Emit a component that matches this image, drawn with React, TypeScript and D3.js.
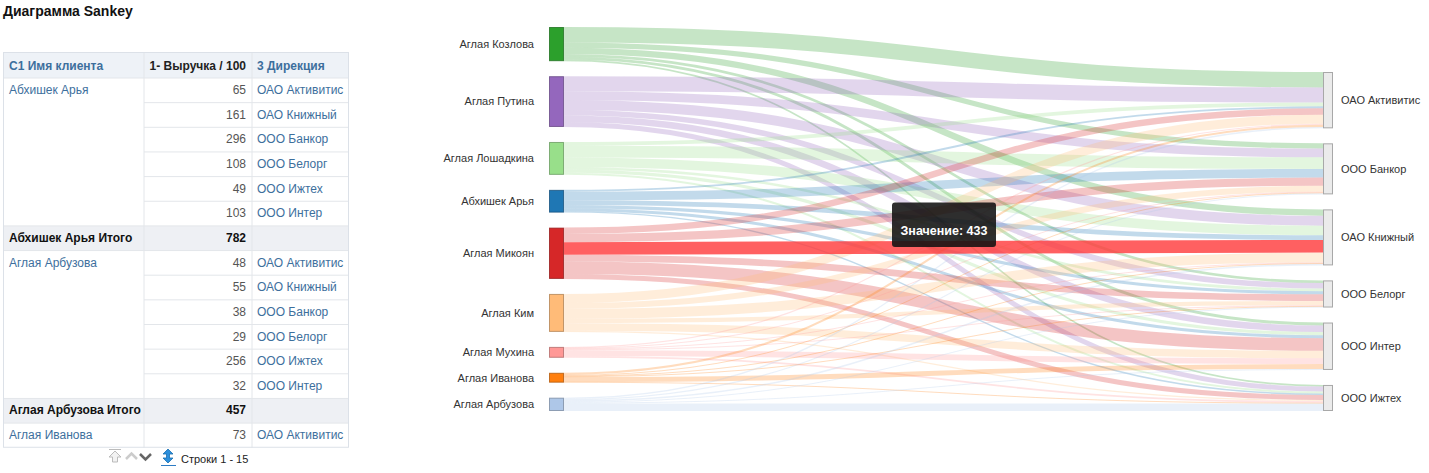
import React from "react";
import * as d3 from "d3";

// ---------- DATA ----------
const sourceNames = [
  "Аглая Козлова",
  "Аглая Путина",
  "Аглая Лошадкина",
  "Абхишек Арья",
  "Аглая Микоян",
  "Аглая Ким",
  "Аглая Мухина",
  "Аглая Иванова",
  "Аглая Арбузова",
];
const sourceColors = [
  "#2ca02c",
  "#9467bd",
  "#98df8a",
  "#1f77b4",
  "#d62728",
  "#ffbb78",
  "#ff9896",
  "#ff7f0e",
  "#aec7e8",
];
const targetNames = [
  "ОАО Активитис",
  "ООО Банкор",
  "ОАО Книжный",
  "ООО Белорг",
  "ООО Интер",
  "ООО Ижтех",
];
// values per source, in targetNames order
const kozlovaValues = [530, 180, 220, 90, 100, 55];
const putinaValues = [520, 300, 340, 190, 225, 170];
const loshadkinaValues = [130, 400, 330, 90, 110, 70];
const abhishekValues = [65, 296, 161, 108, 103, 49];
const mikoyanValues = [220, 280, 433, 230, 430, 170];
const kimValues = [310, 210, 340, 145, 260, 40];
const mukhinaValues = [40, 20, 25, 30, 200, 59];
const ivanovaValues = [73, 30, 21, 20, 170, 26];
const arbuzovaValues = [48, 38, 55, 29, 32, 256];
const linkValues = [
  kozlovaValues,
  putinaValues,
  loshadkinaValues,
  abhishekValues,
  mikoyanValues,
  kimValues,
  mukhinaValues,
  ivanovaValues,
  arbuzovaValues,
];
const highlighted = { source: 4, target: 2 };
const tooltipLabel = "Значение: 433";

// table data
const tableTitle = "Диаграмма Sankey";
const tableHeaders = ["С1 Имя клиента", "1- Выручка / 100", "3 Дирекция"];
type Row = { name?: string; value: string; dir?: string; total?: boolean };
const tableRows: Row[] = [
  { name: "Абхишек Арья", value: "65", dir: "ОАО Активитис" },
  { value: "161", dir: "ОАО Книжный" },
  { value: "296", dir: "ООО Банкор" },
  { value: "108", dir: "ООО Белорг" },
  { value: "49", dir: "ООО Ижтех" },
  { value: "103", dir: "ООО Интер" },
  { name: "Абхишек Арья Итого", value: "782", total: true },
  { name: "Аглая Арбузова", value: "48", dir: "ОАО Активитис" },
  { value: "55", dir: "ОАО Книжный" },
  { value: "38", dir: "ООО Банкор" },
  { value: "29", dir: "ООО Белорг" },
  { value: "256", dir: "ООО Ижтех" },
  { value: "32", dir: "ООО Интер" },
  { name: "Аглая Арбузова Итого", value: "457", total: true },
  { name: "Аглая Иванова", value: "73", dir: "ОАО Активитис" },
];
const pagerLabel = "Строки 1 - 15";

// ---------- LAYOUT ----------
const W = 1429;
const H = 473;
const FONT = "'Liberation Sans', Arial, Helvetica, sans-serif";
const LINK_BLUE = "#3d6f9d";

const sx0 = 549;
const sx1 = 1333;
const sy0 = 27;
const sy1 = 411;
const pad = 15;
const leftW = 15;
const rightW = 10;

export default function App() {
  const srcTotals = linkValues.map((r) => d3.sum(r));
  const tgtTotals = targetNames.map((_, j) => d3.sum(linkValues, (r) => r[j]));
  const total = d3.sum(srcTotals);
  const kyL = (sy1 - sy0 - (sourceNames.length - 1) * pad) / total;
  const kyR = (sy1 - sy0 - (targetNames.length - 1) * pad) / total;
  const ky = Math.min(kyL, kyR);
  const h = d3.scaleLinear().domain([0, total]).range([0, total * ky]);

  const srcNodes: { y0: number; y1: number }[] = [];
  let y = sy0;
  srcTotals.forEach((t) => {
    srcNodes.push({ y0: y, y1: y + h(t) });
    y += h(t) + pad;
  });
  const rightHeight = d3.sum(tgtTotals, (t) => h(t)) + (targetNames.length - 1) * pad;
  const tgtNodes: { y0: number; y1: number }[] = [];
  y = sy1 - rightHeight;
  tgtTotals.forEach((t) => {
    tgtNodes.push({ y0: y, y1: y + h(t) });
    y += h(t) + pad;
  });

  const lx0 = sx0 + leftW;
  const rx0 = sx1 - rightW;

  type L = { s: number; t: number; v: number; w: number; ys: number; yt: number };
  const links: L[] = [];
  const srcOff = srcNodes.map((n) => n.y0);
  const tgtOff = tgtNodes.map((n) => n.y0);
  const linkMap: Record<string, L> = {};
  linkValues.forEach((row, i) => {
    row.forEach((v, j) => {
      const l: L = { s: i, t: j, v, w: h(v), ys: 0, yt: 0 };
      linkMap[i + "-" + j] = l;
      links.push(l);
    });
  });
  for (let i = 0; i < sourceNames.length; i++) {
    for (let j = 0; j < targetNames.length; j++) {
      const l = linkMap[i + "-" + j];
      l.ys = srcOff[i] + l.w / 2;
      srcOff[i] += l.w;
    }
  }
  for (let j = 0; j < targetNames.length; j++) {
    for (let i = 0; i < sourceNames.length; i++) {
      const l = linkMap[i + "-" + j];
      l.yt = tgtOff[j] + l.w / 2;
      tgtOff[j] += l.w;
    }
  }
  const linkGen = d3
    .linkHorizontal<any, [number, number]>()
    .source((d: any) => d[0])
    .target((d: any) => d[1]);
  const pathOf = (l: L) =>
    linkGen([
      [lx0, l.ys],
      [rx0, l.yt],
    ] as any) as string;

  const isHi = (l: L) => l.s === highlighted.source && l.t === highlighted.target;

  const tx = 3;
  const colW = [141, 108, 97];
  const colX = [tx, tx + colW[0], tx + colW[0] + colW[1]];
  const tRight = tx + d3.sum(colW);
  const headY = 52;
  const headH = 26;
  const rowH = 24.65;
  const bodyY = headY + headH;
  const tBottom = bodyY + tableRows.length * rowH;

  return (
    <div style={{ position: "absolute", left: 0, top: 0 }}>
      <svg width={W} height={H} style={{ display: "block", fontFamily: FONT }}>
        <rect x={0} y={0} width={W} height={H} fill="#fff" />
        <text x={3} y={16} fontSize={14} fontWeight="bold" fill="#111">
          {tableTitle}
        </text>

        {/* table */}
        <rect x={tx} y={headY} width={tRight - tx} height={headH} fill="#eef2f7" />
        {tableRows.map((r, i) =>
          r.total ? (
            <rect
              key={"bg" + i}
              x={tx}
              y={bodyY + i * rowH}
              width={tRight - tx}
              height={rowH}
              fill="#eef0f4"
            />
          ) : null
        )}
        {tableRows.map((r, i) => {
          const yy = bodyY + i * rowH;
          const full = r.total || r.name || (i > 0 && tableRows[i - 1].total);
          return (
            <line
              key={"hl" + i}
              x1={full ? tx : colX[1]}
              x2={tRight}
              y1={yy}
              y2={yy}
              stroke="#e3e6ea"
            />
          );
        })}
        {[colX[1], colX[2]].map((x, i) => (
          <line key={"vl" + i} x1={x} x2={x} y1={headY} y2={tBottom} stroke="#e3e6ea" />
        ))}
        <rect
          x={tx + 0.5}
          y={headY + 0.5}
          width={tRight - tx - 1}
          height={tBottom - headY - 1}
          fill="none"
          stroke="#dce1e8"
        />
        <text x={colX[0] + 6} y={headY + 17.5} fontSize={12} fontWeight="bold" fill={LINK_BLUE}>
          {tableHeaders[0]}
        </text>
        <text
          x={colX[2] - 6}
          y={headY + 17.5}
          fontSize={12}
          fontWeight="bold"
          fill="#222"
          textAnchor="end"
        >
          {tableHeaders[1]}
        </text>
        <text x={colX[2] + 5} y={headY + 17.5} fontSize={12} fontWeight="bold" fill={LINK_BLUE}>
          {tableHeaders[2]}
        </text>
        {tableRows.map((r, i) => {
          const by = bodyY + i * rowH + 16;
          return (
            <g key={"r" + i} fontSize={12}>
              {r.name && (
                <text
                  x={colX[0] + 6}
                  y={by}
                  fill={r.total ? "#111" : LINK_BLUE}
                  fontWeight={r.total ? "bold" : "normal"}
                >
                  {r.name}
                </text>
              )}
              <text
                x={colX[2] - 6}
                y={by}
                textAnchor="end"
                fill={r.total ? "#111" : "#555"}
                fontWeight={r.total ? "bold" : "normal"}
              >
                {r.value}
              </text>
              {r.dir && (
                <text x={colX[2] + 5} y={by} fill={LINK_BLUE}>
                  {r.dir}
                </text>
              )}
            </g>
          );
        })}
        {/* pager */}
        <g>
          <path d="M115,451 L109,457 L112.5,457 L112.5,462 L117.5,462 L117.5,457 L121,457 Z" fill="#f2f2f2" stroke="#bbb" />
          <line x1={109} x2={121} y1={449.5} y2={449.5} stroke="#bbb" />
          <path d="M126,459 L131.5,453.5 L137,459" fill="none" stroke="#ccc" strokeWidth={2.5} />
          <path d="M140,454 L145.5,459.5 L151,454" fill="none" stroke="#666" strokeWidth={2.5} />
          <path d="M168,449 L163,454 L166.5,454 L166.5,458 L163,458 L168,463 L173,458 L169.5,458 L169.5,454 L173,454 Z" fill="#2d8fdb" stroke="#1a6fb0" strokeWidth={0.8} />
          <line x1={161} x2={176} y1={465.5} y2={465.5} stroke="#2d7cc4" />
          <text x={181} y={463} fontSize={11} fill="#222">
            {pagerLabel}
          </text>
        </g>

        {/* sankey links */}
        <g fill="none">
          {links
            .filter((l) => !isHi(l))
            .map((l, k) => (
              <path
                key={"lk" + k}
                d={pathOf(l)}
                stroke={sourceColors[l.s]}
                strokeOpacity={0.27}
                strokeWidth={Math.max(1, l.w)}
              />
            ))}
          {links.filter(isHi).map((l, k) => (
            <path
              key={"hi" + k}
              d={pathOf(l)}
              stroke={d3.rgb(sourceColors[l.s]).brighter(1).formatHex()}
              strokeOpacity={0.8}
              strokeWidth={Math.max(1, l.w)}
            />
          ))}
        </g>

        {/* source nodes */}
        {srcNodes.map((n, i) => (
          <g key={"sn" + i}>
            <rect
              x={sx0 + 0.5}
              y={n.y0 + 0.5}
              width={leftW - 1}
              height={Math.max(1, n.y1 - n.y0 - 1)}
              fill={sourceColors[i]}
              stroke={d3.rgb(sourceColors[i]).darker(1).formatHex()}
              strokeOpacity={0.8}
            />
            <text
              x={sx0 - 15}
              y={(n.y0 + n.y1) / 2}
              dy="0.35em"
              textAnchor="end"
              fontSize={11}
              fill="#333"
            >
              {sourceNames[i]}
            </text>
          </g>
        ))}
        {/* target nodes */}
        {tgtNodes.map((n, j) => (
          <g key={"tn" + j}>
            <rect
              x={rx0 + 0.5}
              y={n.y0 + 0.5}
              width={rightW - 1}
              height={Math.max(1, n.y1 - n.y0 - 1)}
              fill="#ebebeb"
              stroke="#a8a8a8"
            />
            <text x={sx1 + 8} y={(n.y0 + n.y1) / 2} dy="0.35em" fontSize={11} fill="#333">
              {targetNames[j]}
            </text>
          </g>
        ))}

        {/* tooltip */}
        <g>
          <rect x={892} y={202.5} width={104} height={44.5} rx={3} fill="#111" fillOpacity={0.88} />
          <text
            x={944}
            y={235}
            textAnchor="middle"
            fontSize={12.5}
            fontWeight="bold"
            fill="#fff"
          >
            {tooltipLabel}
          </text>
        </g>
      </svg>
    </div>
  );
}
